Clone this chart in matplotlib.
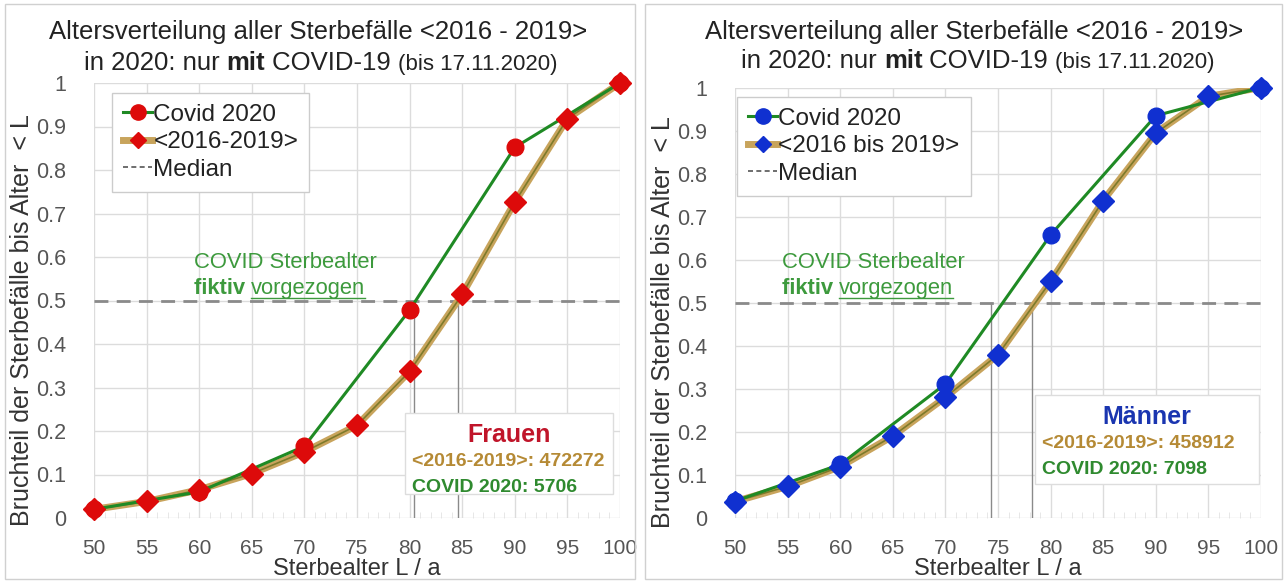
import matplotlib
matplotlib.use("Agg")
import matplotlib.pyplot as plt
from matplotlib.patches import Rectangle
from matplotlib.lines import Line2D
from matplotlib.ticker import MultipleLocator

plt.rcParams['font.family'] = ['Liberation Sans', 'DejaVu Sans']

# Altersklassen (Sterbealter L / a)
ages = [50, 55, 60, 65, 70, 75, 80, 85, 90, 95, 100]
covid_ages = [50, 60, 70, 80, 90, 100]

# Frauen
f_base = [0.02, 0.038, 0.065, 0.102, 0.152, 0.213, 0.337, 0.514, 0.726, 0.918, 1.0]
f_covid = [0.02, 0.06, 0.165, 0.478, 0.852, 1.0]
f_median = [80.4, 84.6]
f_counts = ["<2016-2019>: 472272", "COVID 2020: 5706"]

# Maenner
m_base = [0.039, 0.074, 0.12, 0.191, 0.281, 0.38, 0.55, 0.738, 0.895, 0.98, 1.0]
m_covid = [0.04, 0.125, 0.312, 0.658, 0.935, 1.0]
m_median = [74.3, 78.2]
m_counts = ["<2016-2019>: 458912", "COVID 2020: 7098"]

GREEN = '#1f8a24'
TAN = '#c8a45c'
OLIVE = '#7d7a2a'
GRAY_TXT = '#555555'
W, H = 1287, 583

fig = plt.figure(figsize=(12.87, 5.83), dpi=100)

# Rahmen der beiden Diagramme
fig.patches.append(Rectangle((5 / W, 4 / H), 630 / W, 575 / H, transform=fig.transFigure,
                             fill=False, edgecolor='#d0d0d0', lw=1))
fig.patches.append(Rectangle((645 / W, 4 / H), 637 / W, 575 / H, transform=fig.transFigure,
                             fill=False, edgecolor='#d0d0d0', lw=1))

underlined = []


def draw_panel(rect, base, covid, median, counts, mcolor, gender, gcolor, base_label,
               title_x, line2_x, line2_y, leg_xy, note_xy, box_xy):
    ax = fig.add_axes(rect)
    ax.set_xlim(50, 100)
    ax.set_ylim(0, 1)
    ax.xaxis.set_major_locator(MultipleLocator(5))
    ax.xaxis.set_minor_locator(MultipleLocator(1))
    ax.grid(True, which='major', color='#dcdcdc', lw=1)
    for s in ax.spines.values():
        s.set_visible(False)
    ax.tick_params(which='both', length=0, colors=GRAY_TXT)
    ax.tick_params(axis='x', labelsize=15, pad=15)
    ax.tick_params(axis='y', labelsize=15.5, pad=20)
    ax.tick_params(which='minor', direction='in', length=4, color='#e3e3e3', bottom=True)
    ax.set_yticks([i / 10 for i in range(11)])
    ax.set_yticklabels(['0'] + ['0.%d' % i for i in range(1, 10)] + ['1'])

    # Median-Linie
    ax.axhline(0.5, color='#8a8a8a', lw=2, ls=(0, (5, 3)), zorder=2)
    for m in median:
        ax.plot([m, m], [0, 0.5], color='#8a8a8a', lw=1, zorder=2)

    # Mittel 2016-2019
    ax.plot(ages, base, color=TAN, lw=5, zorder=3, solid_capstyle='round')
    ax.plot(ages, base, color=OLIVE, lw=1.2, zorder=3)
    ax.plot(ages, base, ls='none', marker='D', color=mcolor, ms=11, zorder=5, clip_on=False)
    # Covid 2020
    ax.plot(covid_ages, covid, color=GREEN, lw=2.2, zorder=4)
    ax.plot(covid_ages, covid, ls='none', marker='o', color=mcolor, ms=12, zorder=6, clip_on=False)

    ax.set_xlabel('Sterbealter L / a', fontsize=17, color='#333333', labelpad=0)
    ax.set_ylabel('Bruchteil der Sterbefälle bis Alter  < L', fontsize=18, color='#333333')
    ax.yaxis.set_label_coords(-0.115, 0.455)

    # Legende
    h1 = Line2D([], [], color=GREEN, lw=2.2, marker='o', mfc=mcolor, mec=mcolor, ms=11)
    h2 = Line2D([], [], color=TAN, lw=5, marker='D', mfc=mcolor, mec=mcolor, ms=8)
    h3 = Line2D([], [], color='#555555', lw=1.2, ls=(0, (3, 2)))
    leg = ax.legend([h1, h2, h3], ['Covid 2020', base_label, 'Median'], loc='upper left',
                    bbox_to_anchor=leg_xy, bbox_transform=fig.transFigure, borderaxespad=0,
                    fontsize=17.5, handlelength=1.2, handletextpad=0.05, borderpad=0.45,
                    labelspacing=0.22, fancybox=False, framealpha=1, edgecolor='#cccccc')
    for t in leg.get_texts():
        t.set_color('#222222')

    # Hinweis
    fig.text(note_xy[0] / W, 1 - note_xy[1] / H, 'COVID Sterbealter', color='#3d9a3d',
             fontsize=15.8, ha='left', va='baseline')
    n1 = fig.text(note_xy[0] / W, 1 - (note_xy[1] + 26) / H, 'fiktiv ', color='#3d9a3d',
                  fontsize=15.8, fontweight='bold', ha='left', va='baseline')
    n2 = ax.annotate('vorgezogen', xy=(1, 0), xycoords=n1, color='#3d9a3d', fontsize=15.8,
                     va='bottom', annotation_clip=False)
    underlined.append(n2)

    # Textbox mit Fallzahlen
    x0, y0, x1, y1 = box_xy
    fig.patches.append(Rectangle((x0 / W, 1 - y1 / H), (x1 - x0) / W, (y1 - y0) / H,
                                 transform=fig.transFigure, facecolor='white', edgecolor='#dddddd',
                                 lw=1, zorder=5))
    cx = (x0 + x1) / 2 / W
    fig.text(cx, 1 - (y0 + 22) / H, gender, color=gcolor, fontsize=18, fontweight='bold',
             ha='center', va='center', zorder=6)
    fig.text((x0 + 7) / W, 1 - (y0 + 48) / H, counts[0], color='#b58a35', fontsize=14,
             fontweight='bold', ha='left', va='center', zorder=6)
    fig.text((x0 + 7) / W, 1 - (y0 + 74) / H, counts[1], color='#2f8a2f', fontsize=14,
             fontweight='bold', ha='left', va='center', zorder=6)

    # Titel
    fig.text(title_x / W, 1 - 32 / H, 'Altersverteilung aller Sterbefälle <2016 - 2019>',
             fontsize=18.5, color='#222222', ha='center', va='center')
    t1 = fig.text(line2_x / W, 1 - line2_y / H, 'in 2020: nur ', fontsize=18.5, color='#222222',
                  ha='left', va='baseline')
    t2 = ax.annotate('mit', xy=(1, 0), xycoords=t1, fontsize=18.5, fontweight='bold',
                     color='#222222', va='bottom', annotation_clip=False)
    t3 = ax.annotate(' COVID-19 ', xy=(1, 0), xycoords=t2, fontsize=18.5, color='#222222',
                     va='bottom', annotation_clip=False)
    ax.annotate('(bis 17.11.2020)', xy=(1, 0), xycoords=t3, fontsize=16, color='#222222',
                va='bottom', annotation_clip=False)
    return ax


draw_panel([94 / W, 1 - 518 / H, 526 / W, 435 / H], f_base, f_covid, f_median, f_counts,
           '#dd0a0a', 'Frauen', '#c0152a', '<2016-2019>',
           318, 84, 70, (112 / W, 1 - 93 / H), (194, 268), (405, 413, 613, 494))
draw_panel([735 / W, 1 - 518.3 / H, 526 / W, 430.6 / H], m_base, m_covid, m_median, m_counts,
           '#1030d0', 'Männer', '#1a35b0', '<2016 bis 2019>',
           974, 741, 68, (737 / W, 1 - 97 / H), (782, 268), (1035, 395, 1259, 484))

# Unterstreichung von "vorgezogen"
fig.canvas.draw()
inv = fig.transFigure.inverted()
for t in underlined:
    bb = t.get_window_extent()
    (ux0, uy), (ux1, _) = inv.transform([(bb.x0, bb.y0 + 1), (bb.x1, bb.y0 + 1)])
    fig.add_artist(Line2D([ux0, ux1], [uy, uy], color='#3d9a3d', lw=1, transform=fig.transFigure))

fig.savefig('out.png', dpi=100)
